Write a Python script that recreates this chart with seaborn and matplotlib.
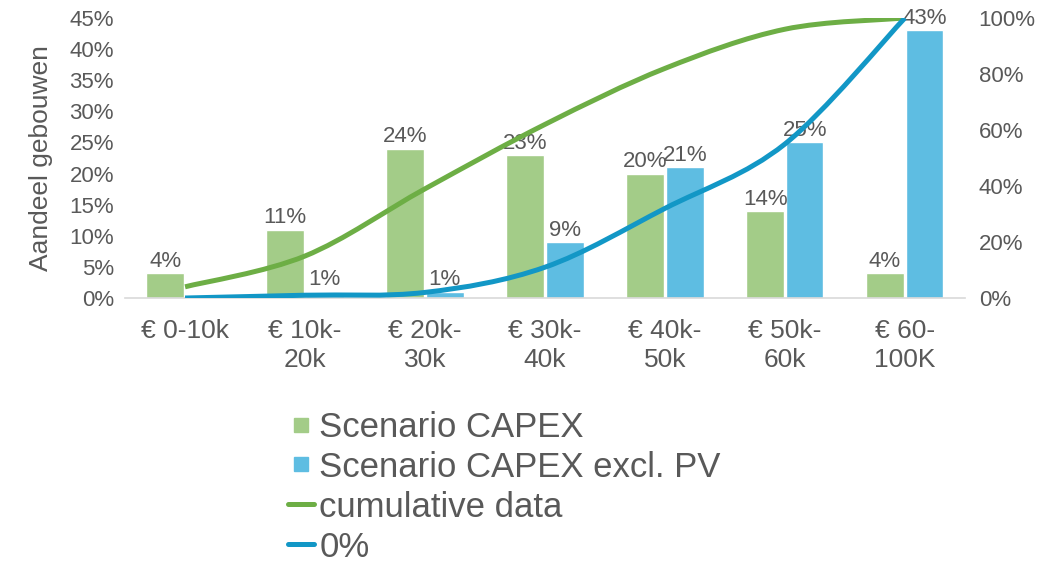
import numpy as np
import pandas as pd
import matplotlib
matplotlib.use('Agg')
import matplotlib.pyplot as plt
from matplotlib.path import Path
from matplotlib.patches import PathPatch
from matplotlib.lines import Line2D
from matplotlib.ticker import PercentFormatter
import seaborn as sns

# Data
categories = ['€ 0-10k', '€ 10k-\n20k', '€ 20k-\n30k', '€ 30k-\n40k',
              '€ 40k-\n50k', '€ 50k-\n60k', '€ 60-\n100K']
capex = [4, 11, 24, 23, 20, 14, 4]
capex_excl_pv = [0, 1, 1, 9, 21, 25, 43]
cum_capex = [4, 15, 39, 62, 82, 96, 100]
cum_excl_pv = [0, 1, 2, 11, 32, 55, 100]
series_names = ['Scenario CAPEX', 'Scenario CAPEX excl. PV']
line_names = ['cumulative data', '0%']

green_bar = '#A3CC88'
blue_bar = '#5EBDE2'
green_line = '#6DAE45'
blue_line = '#1297C6'
grey_txt = '#595959'

sns.set_style('white')
plt.rcParams['font.family'] = ['Liberation Sans', 'DejaVu Sans']
plt.rcParams['text.color'] = grey_txt

df = pd.DataFrame({
    'cat': categories * 2,
    'val': capex + capex_excl_pv,
    'serie': [series_names[0]] * 7 + [series_names[1]] * 7,
})

fig = plt.figure(figsize=(10.51, 5.72), dpi=100)
ax = fig.add_axes([0.119, 0.479, 0.799, 0.4895])

sns.barplot(data=df, x='cat', y='val', hue='serie', order=categories,
            palette=[green_bar, blue_bar], width=0.66, gap=0.05,
            saturation=1, legend=False, ax=ax)

# value labels (skip the empty bar)
for cont in ax.containers:
    labels = [f'{int(b.get_height())}%' if b.get_height() > 0 else '' for b in cont]
    ax.bar_label(cont, labels=labels, padding=1, fontsize=16, color=grey_txt)

ax.set_ylim(0, 45)
ax.set_yticks(np.arange(0, 46, 5))
ax.yaxis.set_major_formatter(PercentFormatter(decimals=0))
ax.set_xlim(-0.5, 6.5)
ax.set_xlabel('')
ax.set_ylabel('Aandeel gebouwen', fontsize=19, color=grey_txt, labelpad=12)
ax.tick_params(axis='y', length=0, labelsize=16, labelcolor=grey_txt, pad=8)
ax.tick_params(axis='x', length=0, labelsize=19, labelcolor=grey_txt, pad=15)
for lbl in ax.get_xticklabels():
    lbl.set_multialignment('center')
    lbl.set_linespacing(1.25)
for s in ['top', 'right', 'left']:
    ax.spines[s].set_visible(False)
ax.spines['bottom'].set_color('#D9D9D9')
ax.spines['bottom'].set_linewidth(1.2)

# cumulative curves on the right axis, smoothed like Excel
ax2 = ax.twinx()
ax2.set_ylim(0, 100)
ax2.set_yticks(np.arange(0, 101, 20))
ax2.yaxis.set_major_formatter(PercentFormatter(decimals=0))
ax2.tick_params(axis='y', length=0, labelsize=16, labelcolor=grey_txt, pad=10)
for s in ['top', 'right', 'left', 'bottom']:
    ax2.spines[s].set_visible(False)


def smooth_path(xs, ys):
    pts = np.column_stack([xs, ys]).astype(float)
    n = len(pts)
    verts = [pts[0]]
    codes = [Path.MOVETO]
    for i in range(n - 1):
        p0 = pts[max(i - 1, 0)]
        p1 = pts[i]
        p2 = pts[i + 1]
        p3 = pts[min(i + 2, n - 1)]
        c1 = p1 + (p2 - p0) / 6.0
        c2 = p2 - (p3 - p1) / 6.0
        verts += [c1, c2, p2]
        codes += [Path.CURVE4] * 3
    return Path(verts, codes)


xpos = np.arange(len(categories))
for ys, col in [(cum_capex, green_line), (cum_excl_pv, blue_line)]:
    ax2.add_patch(PathPatch(smooth_path(xpos, ys), fill=False,
                            edgecolor=col, lw=3.6, capstyle='butt',
                            joinstyle='round', zorder=3))

handles = [
    Line2D([], [], marker='s', linestyle='none', markersize=10,
           markerfacecolor=green_bar, markeredgecolor=green_bar),
    Line2D([], [], marker='s', linestyle='none', markersize=10,
           markerfacecolor=blue_bar, markeredgecolor=blue_bar),
    Line2D([], [], color=green_line, lw=3.6),
    Line2D([], [], color=blue_line, lw=3.6),
]
fig.legend(handles, series_names + line_names, loc='upper left',
           bbox_to_anchor=(0.274, 0.282), frameon=False, fontsize=25,
           handlelength=0.75, handletextpad=0.15, labelspacing=0.2,
           borderpad=0, borderaxespad=0, labelcolor=grey_txt)

fig.savefig('out.png', dpi=100)
